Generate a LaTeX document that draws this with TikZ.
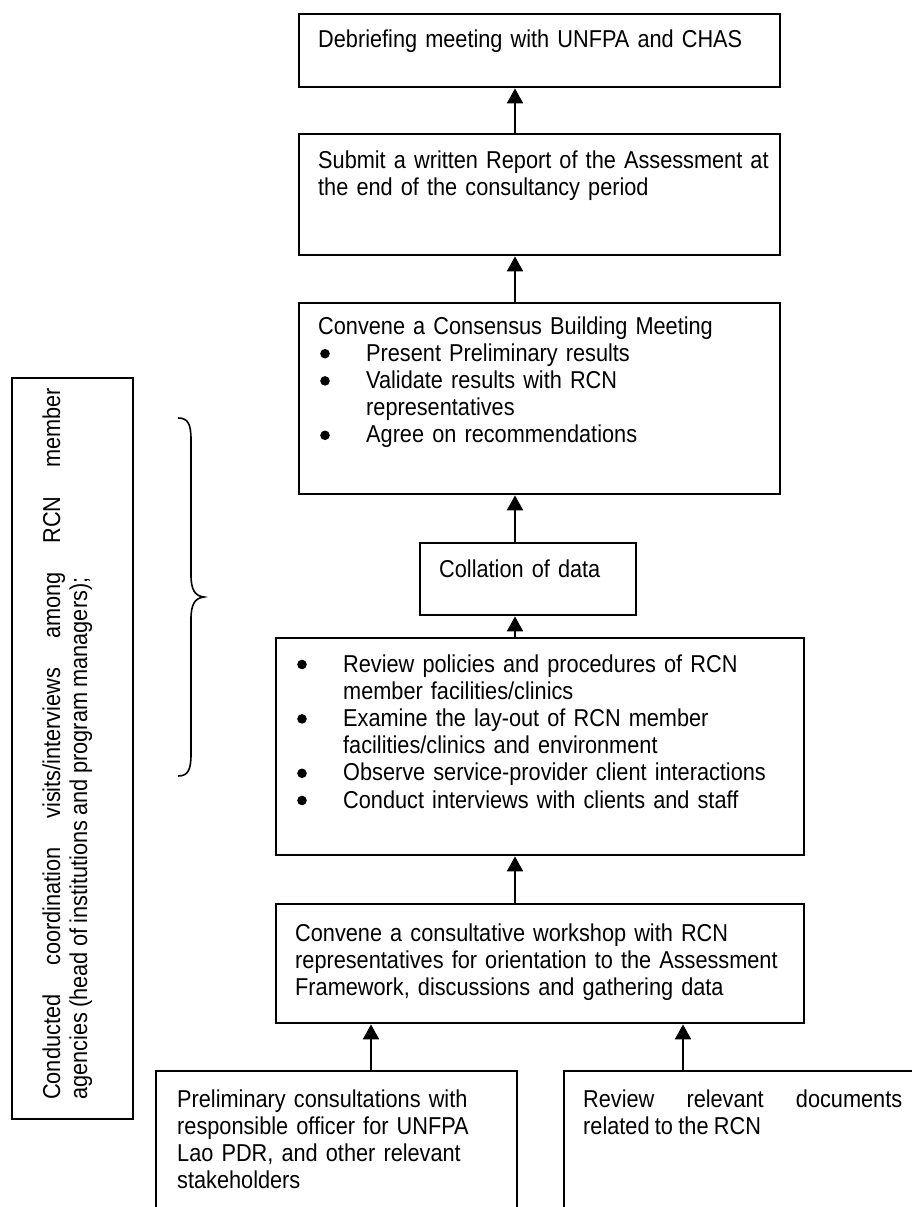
\documentclass[tikz,border=0pt]{standalone}
\usepackage{fontspec}
\setmainfont{Liberation Sans}[FakeStretch=0.89,WordSpace=0.89]
\usetikzlibrary{arrows.meta}

% round bullet used in the itemised boxes
\newcommand\dotmark{\tikz[baseline=-7.5pt]\fill (0,0) circle[radius=4.8pt];}
\newcommand\itm{\makebox[48pt][l]{\hspace*{2pt}\dotmark}}
\newcommand\cont{\hspace*{48pt}}

\begin{document}
\begin{tikzpicture}[x=1pt,y=-1pt,
  box/.style={draw, line width=1.8pt, rectangle, anchor=north west, inner sep=0pt},
  txt/.style={anchor=base west, inner sep=0pt, align=left, text width=#1,
              font=\fontsize{24.4pt}{27.2pt}\selectfont},
  txt/.default=490pt,
  arr/.style={line width=2.2pt, -{Triangle[width=16pt,length=15pt]}, shorten >=0.6pt},
  brace/.style={line width=1.6pt}
]
\useasboundingbox (0,0) rectangle (912,1207);

% main column
\node[box, minimum width=481pt, minimum height=73pt]  (b1) at (298,13) {};
\node[box, minimum width=481pt, minimum height=121pt] (b2) at (298,133) {};
\node[box, minimum width=481pt, minimum height=191pt] (b3) at (298,302) {};
\node[box, minimum width=216pt, minimum height=72pt]  (b4) at (419,542) {};
\node[box, minimum width=528pt, minimum height=217pt] (b5) at (275,637) {};
\node[box, minimum width=528pt, minimum height=119pt] (b6) at (275,903) {};
\node[box, minimum width=361pt, minimum height=170pt] (bl) at (155,1070) {};
\node[box, minimum width=400pt, minimum height=170pt] (br) at (563,1070) {};
\node[box, minimum width=121pt, minimum height=741pt] (lb) at (11,377) {};

% texts
\node[txt] (t1) at (318,48) {Debriefing meeting with UNFPA and CHAS};
\node[txt] (t2) at (318,168) {Submit a written Report of the Assessment at\\the end of the consultancy period};
\node[txt] (t3) at (318,334) {Convene a Consensus Building Meeting\\
  \itm Present Preliminary results\\
  \itm Validate results with RCN\\
  \cont representatives\\
  \itm Agree on recommendations};
\node[txt=200pt] (t4) at (439,577) {Collation of data};
\node[txt] (t5) at (295,672) {\itm Review policies and procedures of RCN\\
  \cont member facilities/clinics\\
  \itm Examine the lay-out of RCN member\\
  \cont facilities/clinics and environment\\
  \itm Observe service-provider client interactions\\
  \itm Conduct interviews with clients and staff};
\node[txt=505pt] (t6) at (295,941) {Convene a consultative workshop with RCN\\
  representatives for orientation to the Assessment\\
  Framework, discussions and gathering data};
\node[txt=330pt] (t7) at (177,1107) {Preliminary consultations with\\
  responsible officer for UNFPA\\
  Lao PDR, and other relevant\\
  stakeholders};
\node[txt=319pt, align=justify] (t8) at (583,1107) {Review relevant documents\linebreak related to the RCN};
\node[txt=712pt, align=justify, rotate=90] (t9) at (60,1100)
  {Conducted coordination visits/interviews among RCN member\linebreak agencies (head of institutions and program managers);};

% connectors
\coordinate (ax) at (515,0);
\coordinate (lx) at (371,0);
\coordinate (rx) at (683,0);
\draw[arr] (b2.north -| ax) -- (b1.south -| ax);
\draw[arr] (b3.north -| ax) -- (b2.south -| ax);
\draw[arr] (b4.north -| ax) -- (b3.south -| ax);
\draw[arr] (b5.north -| ax) -- (b4.south -| ax);
\draw[arr] (b6.north -| ax) -- (b5.south -| ax);
\draw[arr] (bl.north -| lx) -- (b6.south -| lx);
\draw[arr] (br.north -| rx) -- (b6.south -| rx);

% curly brace
\draw[brace] (178,418) .. controls (188,418) and (191,424) .. (191,440) -- (191,575)
  .. controls (191,590) and (195,596) .. (204,597)
  .. controls (195,598) and (191,604) .. (191,619) -- (191,754)
  .. controls (191,770) and (188,776) .. (178,776);
\end{tikzpicture}
\end{document}
